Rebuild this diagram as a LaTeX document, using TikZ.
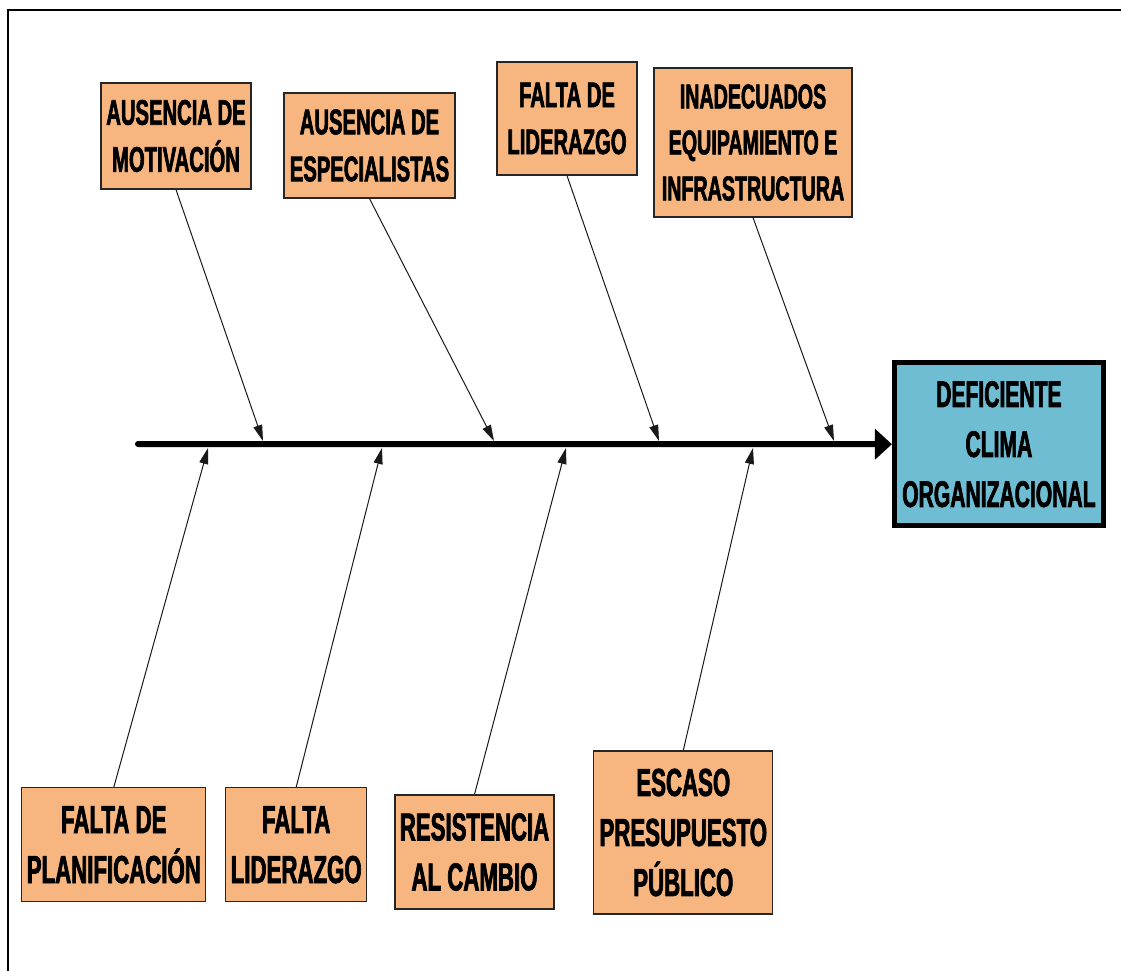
\documentclass[tikz,border=0pt]{standalone}
\usepackage{fontspec}
\usetikzlibrary{arrows.meta}
\newfontfamily\labelfont[FakeStretch=0.57,FakeBold=1.8]{Liberation Sans Bold}
\definecolor{causefill}{RGB}{247,182,127}
\definecolor{effectfill}{RGB}{111,189,211}
\tikzset{
  causebox/.style={draw=black!85, line width=1.3pt, fill=causefill, inner sep=0pt,
    align=center, text=black},
  effectbox/.style={draw=black, line width=5pt, fill=effectfill, inner sep=0pt,
    align=center, text=black},
  topfont/.style={font=\labelfont\fontsize{35.5}{47}\selectfont},
  smallfont/.style={font=\labelfont\fontsize{34.5}{46}\selectfont},
  bottomfont/.style={font=\labelfont\fontsize{39}{50}\selectfont},
  effectfont/.style={font=\labelfont\fontsize{37}{50}\selectfont},
  spine/.style={line width=6pt, line cap=round, -{Triangle[length=17pt,width=30pt]}},
  bone/.style={line width=1pt, draw=black!90, -{Triangle[length=16pt,width=9pt]}}
}
\begin{document}
\begin{tikzpicture}[x=1pt,y=-1pt]
\useasboundingbox (0,0) rectangle (1121,971);
\clip (0,0) rectangle (1121,971);
% outer frame (its right and lower sides run off the page)
\draw[line width=2.6pt] (8,990) -- (8,10) -- (1140,10);

% effect
\node[effectbox, effectfont, minimum width=209pt, minimum height=163pt]
  (effect) at (998.9,444.2) {DEFICIENTE\\CLIMA\\ORGANIZACIONAL};

% causes above the spine
\node[causebox, topfont, minimum width=150pt, minimum height=106pt]
  (m1) at (176,136) {AUSENCIA DE\\MOTIVACIÓN};
\node[causebox, topfont, minimum width=171pt, minimum height=105pt]
  (m2) at (369.5,145.5) {AUSENCIA DE\\ESPECIALISTAS};
\node[causebox, topfont, minimum width=140pt, minimum height=113pt]
  (m3) at (567,118.5) {FALTA DE\\LIDERAZGO};
\node[causebox, smallfont, minimum width=198pt, minimum height=149pt]
  (m4) at (753,142.5) {INADECUADOS\\EQUIPAMIENTO E\\INFRASTRUCTURA};

% causes below the spine
\node[causebox, bottomfont, minimum width=184pt, minimum height=114pt]
  (b1) at (113.8,844.8) {FALTA DE\\PLANIFICACIÓN};
\node[causebox, bottomfont, minimum width=141pt, minimum height=114pt]
  (b2) at (296.2,844.8) {FALTA\\LIDERAZGO};
\node[causebox, bottomfont, minimum width=159pt, minimum height=114pt]
  (b3) at (474.5,852) {RESISTENCIA\\AL CAMBIO};
\node[causebox, bottomfont, minimum width=179pt, minimum height=163pt]
  (b4) at (683.3,832.5) {ESCASO\\PRESUPUESTO\\PÚBLICO};

% spine
\coordinate (tail) at (138,444);
\draw[spine] (tail) -- (effect.west);

% points where the bones meet the spine
\coordinate (t1) at (263,441);
\coordinate (t2) at (494,441);
\coordinate (t3) at (659,441);
\coordinate (t4) at (834,441);
\coordinate (u1) at (208,448);
\coordinate (u2) at (382,448);
\coordinate (u3) at (566,448);
\coordinate (u4) at (753,448);

\draw[bone] (m1.south) -- (t1);
\draw[bone] (m2.south) -- (t2);
\draw[bone] (m3.south) -- (t3);
\draw[bone] (m4.south) -- (t4);
\draw[bone] (b1.north) -- (u1);
\draw[bone] (b2.north) -- (u2);
\draw[bone] (b3.north) -- (u3);
\draw[bone] (b4.north) -- (u4);
\end{tikzpicture}
\end{document}
